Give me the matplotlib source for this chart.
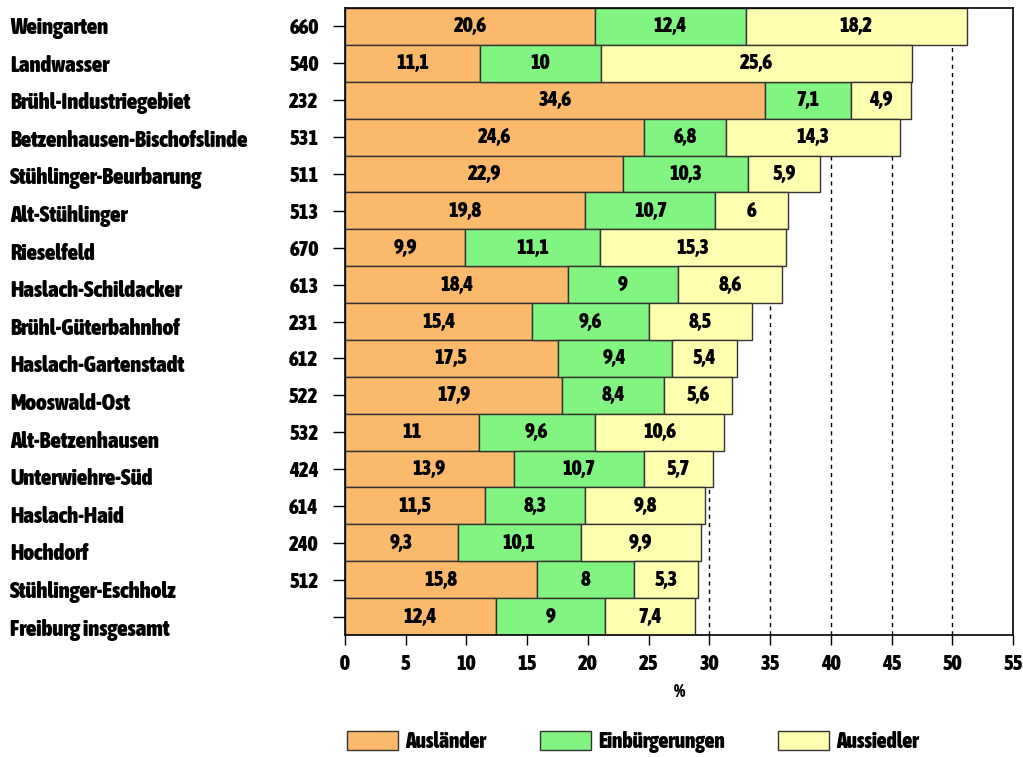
import numpy as np
import matplotlib.pyplot as plt
from matplotlib.patches import Patch
from matplotlib import font_manager
from matplotlib.font_manager import FontProperties

#Data
names = ["Weingarten", "Landwasser", "Brühl-Industriegebiet", "Betzenhausen-Bischofslinde",
         "Stühlinger-Beurbarung", "Alt-Stühlinger", "Rieselfeld", "Haslach-Schildacker",
         "Brühl-Güterbahnhof", "Haslach-Gartenstadt", "Mooswald-Ost", "Alt-Betzenhausen",
         "Unterwiehre-Süd", "Haslach-Haid", "Hochdorf", "Stühlinger-Eschholz", "Freiburg insgesamt"]
codes = ["660", "540", "232", "531", "511", "513", "670", "613", "231", "612", "522", "532",
         "424", "614", "240", "512", ""]
auslaender = [20.6, 11.1, 34.6, 24.6, 22.9, 19.8, 9.9, 18.4, 15.4, 17.5, 17.9, 11, 13.9, 11.5, 9.3, 15.8, 12.4]
einbuergerungen = [12.4, 10, 7.1, 6.8, 10.3, 10.7, 11.1, 9, 9.6, 9.4, 8.4, 9.6, 10.7, 8.3, 10.1, 8, 9]
aussiedler = [18.2, 25.6, 4.9, 14.3, 5.9, 6, 15.3, 8.6, 8.5, 5.4, 5.6, 10.6, 5.7, 9.8, 9.9, 5.3, 7.4]

series = [("Ausländer", auslaender, "#fbb96b"),
          ("Einbürgerungen", einbuergerungen, "#82f482"),
          ("Aussiedler", aussiedler, "#ffffb0")]

#look for a narrow bold font file (Liberation Sans Narrow Bold first)
def is_bold(f):
    w = f.weight
    if isinstance(w, str):
        return w.lower() in ("bold", "heavy", "black", "extra bold", "semibold", "demibold", "700")
    return w >= 600

cands = [f for f in font_manager.fontManager.ttflist
         if ("Narrow" in f.name or "Condensed" in f.name) and is_bold(f) and f.style == "normal"]
cands.sort(key=lambda f: (0 if "Liberation" in f.name else 1, f.name))
if cands:
    fname = cands[0].fname
    def fp(size):
        return FontProperties(fname=fname, size=size)
else:
    def fp(size):
        return FontProperties(family="DejaVu Sans", weight="bold", stretch="condensed", size=size)

fig = plt.figure(figsize=(10.23, 7.57), dpi=100)
ax = fig.add_axes([345/1023, 1-635/757, 668/1023, 627/757])

y = np.arange(len(names))
left = np.zeros(len(names))
for label, vals, col in series:
    vals = np.array(vals, dtype=float)
    ax.barh(y, vals, left=left, height=1.0, color=col, edgecolor="#333333", linewidth=1.0, zorder=2)
    for yi, l, v in zip(y, left, vals):
        txt = ("%g" % v).replace(".", ",")
        ax.text(l + v/2, yi, txt, ha="center", va="center", fontproperties=fp(15), zorder=3)
    left += vals

ax.set_xlim(0, 55)
ax.set_ylim(len(names) - 0.5, -0.5)
ax.set_xticks(np.arange(0, 56, 5))
ax.set_yticks(y)
ax.set_yticklabels(codes)
ax.tick_params(axis="y", length=9, width=1, pad=10)
ax.tick_params(axis="x", length=7, width=1, pad=7)
for t in ax.get_xticklabels() + ax.get_yticklabels():
    t.set_fontproperties(fp(15))
ax.xaxis.grid(True, linestyle=(0, (3, 3)), color="black", linewidth=1)
ax.set_axisbelow(True)
for s in ax.spines.values():
    s.set_linewidth(1.2)
ax.set_xlabel("%", fontproperties=fp(13), labelpad=6)

#district names on the far left, spacing a bit wider than the rows
for i, n in enumerate(names):
    yn = i + (1.6 + 0.72*i)/36.88
    ypix = ax.transData.transform((0, yn))[1]
    fig.text(10/1023, ypix/fig.bbox.height, n, fontproperties=fp(16.5), va="center", ha="left")

handles = [Patch(facecolor=c, edgecolor="#333333", linewidth=1.0) for _, _, c in series]
fig.legend(handles, [s[0] for s in series], loc="upper left", bbox_to_anchor=(347/1023, 1-731/757),
           ncol=3, frameon=False, handlelength=2.37, handleheight=1.0, columnspacing=2.5,
           handletextpad=0.33, prop=fp(15.5), borderaxespad=0, borderpad=0)

fig.savefig("out.png", dpi=100)
